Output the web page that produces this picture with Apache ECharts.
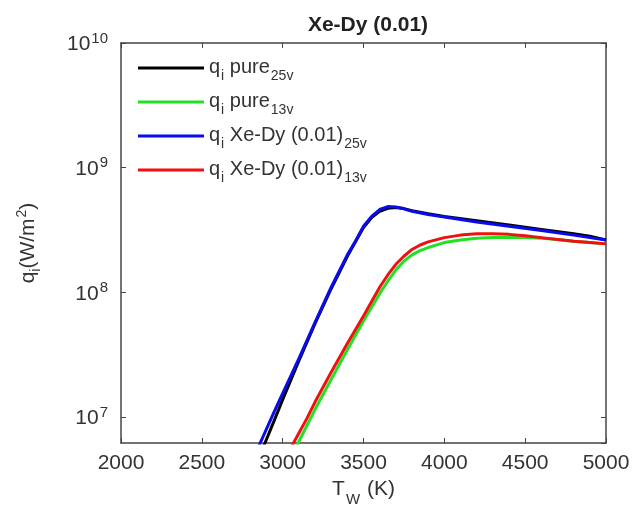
<!DOCTYPE html>
<html>
<head>
<meta charset="utf-8">
<script src="https://cdn.jsdelivr.net/npm/echarts@6/dist/echarts.min.js"></script>
<style>
html,body{margin:0;padding:0;background:#fff;}
#chart{width:634px;height:518px;}
</style>
</head>
<body>
<div id="chart"></div>
<script>
// 温度 (K) 与 q_i (W/m^2)
var pure25T = [2830, 2890, 2950, 3000, 3100, 3200, 3300, 3400, 3500, 3550, 3600, 3650, 3700, 3750, 3800, 3900, 4000, 4200, 4400, 4600, 4800, 4900, 5000];
var pure25Q = [4.17e6, 6.17e6, 9.55e6, 1.38e7, 2.82e7, 5.62e7, 1.07e8, 1.95e8, 3.31e8, 3.98e8, 4.47e8, 4.73e8, 4.79e8, 4.70e8, 4.52e8, 4.27e8, 4.07e8, 3.76e8, 3.47e8, 3.20e8, 2.95e8, 2.82e8, 2.63e8];

var pure13T = [3030, 3095, 3200, 3300, 3400, 3500, 3600, 3650, 3700, 3750, 3800, 3850, 3900, 4000, 4100, 4200, 4300, 4400, 4500, 4600, 4700, 4800, 4900, 5000];
var pure13Q = [4.17e6, 6.17e6, 1.15e7, 2.00e7, 3.47e7, 5.89e7, 9.77e7, 1.23e8, 1.51e8, 1.78e8, 2.00e8, 2.16e8, 2.29e8, 2.51e8, 2.63e8, 2.72e8, 2.75e8, 2.75e8, 2.75e8, 2.72e8, 2.66e8, 2.57e8, 2.51e8, 2.45e8];

var xeDy25T = [2800, 2860, 2950, 3000, 3100, 3200, 3300, 3400, 3450, 3500, 3550, 3600, 3650, 3700, 3750, 3800, 3900, 4000, 4200, 4400, 4600, 4800, 4900, 5000];
var xeDy25Q = [4.17e6, 6.17e6, 1.12e7, 1.55e7, 2.95e7, 5.75e7, 1.10e8, 2.00e8, 2.57e8, 3.39e8, 4.07e8, 4.62e8, 4.88e8, 4.84e8, 4.68e8, 4.47e8, 4.22e8, 4.03e8, 3.67e8, 3.39e8, 3.13e8, 2.88e8, 2.75e8, 2.63e8];

var xeDy13T = [3000, 3066, 3150, 3200, 3300, 3400, 3500, 3600, 3650, 3700, 3750, 3800, 3850, 3900, 4000, 4100, 4200, 4300, 4400, 4500, 4600, 4700, 4800, 4900, 5000];
var xeDy13Q = [4.17e6, 6.17e6, 9.77e6, 1.32e7, 2.29e7, 3.89e7, 6.46e7, 1.10e8, 1.38e8, 1.68e8, 1.95e8, 2.21e8, 2.40e8, 2.54e8, 2.75e8, 2.88e8, 2.95e8, 2.95e8, 2.92e8, 2.85e8, 2.75e8, 2.66e8, 2.57e8, 2.51e8, 2.45e8];

var seriesNames = ['pure25', 'pure13', 'xedy25', 'xedy13'];
var legendText = {
	pure25: '{n|q}{s|i}{n| pure}{s|25v}',
	pure13: '{n|q}{s|i}{n| pure}{s|13v}',
	xedy25: '{n|q}{s|i}{n| Xe-Dy (0.01)}{s|25v}',
	xedy13: '{n|q}{s|i}{n| Xe-Dy (0.01)}{s|13v}'
};

var FONT = 'Liberation Sans';
var AXIS_COLOR = '#444';
var TEXT_COLOR = '#333';

function pairs(xs, ys){
	var out = [];
	for(var i = 0;i<xs.length;i++){
		out.push([xs[i], ys[i]]);
	}
	return out;
}

function lineSeries(name, xs, ys, color){
	return {
		name: name,
		type: 'line',
		data: pairs(xs, ys),
		symbol: 'none',
		smooth: false,
		color: color,
		lineStyle: {width: 3, color: color, join: 'round'},
		clip: true,
		silent: true
	};
}

var chart = echarts.init(document.getElementById('chart'));

var option = {
	animation: false,
	backgroundColor: '#fff',
	textStyle: {fontFamily: FONT},
	title: {
		text: 'Xe-Dy (0.01)',
		left: 363,
		textAlign: 'center',
		top: 10,
		textStyle: {fontFamily: FONT, fontSize: 21, fontWeight: 'bold', color: '#222'}
	},
	grid: {left: 121, right: 28, top: 43, bottom: 75},
	legend: {
		orient: 'vertical',
		left: 133,
		top: 52,
		icon: 'rect',
		itemWidth: 66,
		itemHeight: 3,
		itemGap: 8,
		data: seriesNames,
		formatter: function(name){ return legendText[name]; },
		textStyle: {
			fontFamily: FONT,
			color: TEXT_COLOR,
			rich: {
				n: {fontSize: 20, fontFamily: FONT, color: TEXT_COLOR, lineHeight: 22, verticalAlign: 'top'},
				s: {fontSize: 14, fontFamily: FONT, color: TEXT_COLOR, lineHeight: 14, verticalAlign: 'top', padding: [12, 0, 0, 1]}
			}
		}
	},
	xAxis: [
		{
			type: 'value',
			min: 2000,
			max: 5000,
			interval: 500,
			name: '{n|T}{s|W}{n| (K)}',
			nameLocation: 'middle',
			nameGap: 36,
			nameTextStyle: {
				rich: {
					n: {fontSize: 21, fontFamily: FONT, color: TEXT_COLOR, lineHeight: 24, verticalAlign: 'top'},
					s: {fontSize: 15, fontFamily: FONT, color: TEXT_COLOR, lineHeight: 15, verticalAlign: 'top', padding: [13, 1, 0, 1]}
				}
			},
			axisLine: {show: true, lineStyle: {color: AXIS_COLOR, width: 1.5}},
			axisTick: {show: true, inside: true, length: 5, lineStyle: {color: AXIS_COLOR}},
			axisLabel: {
				fontSize: 21, fontFamily: FONT, color: TEXT_COLOR, margin: 10,
				formatter: function(v){ return String(v); }
			},
			splitLine: {show: false}
		},
		{
			type: 'value',
			position: 'top',
			min: 2000,
			max: 5000,
			interval: 500,
			axisLine: {show: true, lineStyle: {color: AXIS_COLOR, width: 1.5}},
			axisTick: {show: true, inside: true, length: 5, lineStyle: {color: AXIS_COLOR}},
			axisLabel: {show: false},
			splitLine: {show: false}
		}
	],
	yAxis: [
		{
			type: 'log',
			logBase: 10,
			min: 6.2e6,
			max: 1e10,
			name: '{n|q}{s|i}{n|(W/m}{p|2}{n|)}',
			nameLocation: 'middle',
			nameGap: 82,
			nameRotate: 90,
			nameTextStyle: {
				rich: {
					n: {fontSize: 21, fontFamily: FONT, color: TEXT_COLOR, lineHeight: 24, verticalAlign: 'bottom'},
					s: {fontSize: 14, fontFamily: FONT, color: TEXT_COLOR, lineHeight: 14, verticalAlign: 'top', padding: [14, 0, 0, 0]},
					p: {fontSize: 14, fontFamily: FONT, color: TEXT_COLOR, lineHeight: 14, verticalAlign: 'top', padding: [0, 0, 0, 1]}
				}
			},
			axisLine: {show: true, lineStyle: {color: AXIS_COLOR, width: 1.5}},
			axisTick: {show: true, inside: true, length: 5, lineStyle: {color: AXIS_COLOR}},
			axisLabel: {
				margin: 13,
				showMinLabel: false,
				formatter: function(v){
					var e = Math.round(Math.log(v) / Math.LN10);
					return '{b|10}{s|' + e + '}';
				},
				rich: {
					b: {fontSize: 21, fontFamily: FONT, color: TEXT_COLOR, lineHeight: 24, verticalAlign: 'bottom'},
					s: {fontSize: 15, fontFamily: FONT, color: TEXT_COLOR, lineHeight: 15, verticalAlign: 'top', padding: [0, 0, 0, 1]}
				}
			},
			splitLine: {show: false}
		},
		{
			type: 'log',
			logBase: 10,
			position: 'right',
			min: 6.2e6,
			max: 1e10,
			axisLine: {show: true, lineStyle: {color: AXIS_COLOR, width: 1.5}},
			axisTick: {show: true, inside: true, length: 5, lineStyle: {color: AXIS_COLOR}},
			axisLabel: {show: false},
			splitLine: {show: false}
		}
	],
	series: [
		lineSeries('pure25', pure25T, pure25Q, '#000000'),
		lineSeries('pure13', pure13T, pure13Q, '#22e022'),
		lineSeries('xedy25', xeDy25T, xeDy25Q, '#0a0aee'),
		lineSeries('xedy13', xeDy13T, xeDy13Q, '#f01010')
	]
};

chart.setOption(option);
</script>
</body>
</html>
